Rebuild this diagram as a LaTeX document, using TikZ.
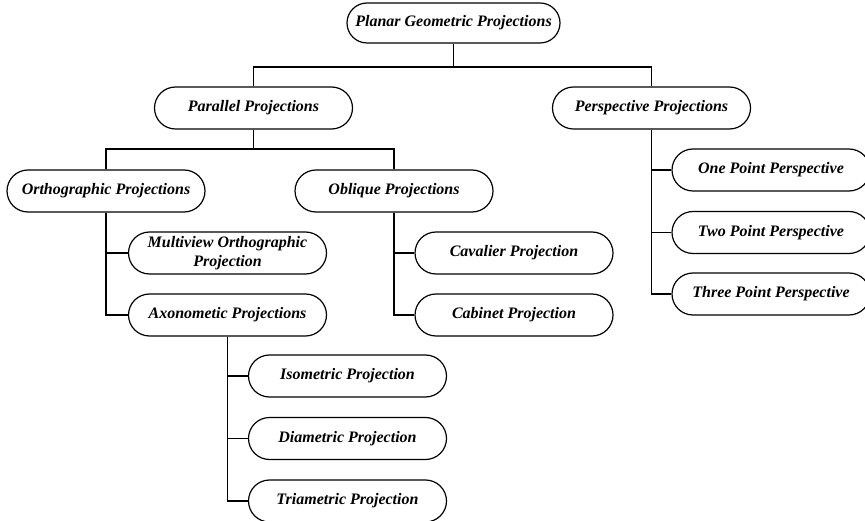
\documentclass[tikz,border=0pt]{standalone}
\usepackage{fontspec}
\setmainfont{Liberation Serif}
\usetikzlibrary{shapes.misc}
\begin{document}
\begin{tikzpicture}[x=1pt,y=-1pt,
  pbox/.style={draw, rounded rectangle, line width=1.2pt, minimum width=198pt, minimum height=42pt, inner sep=0pt,
    font=\fontsize{16}{18.5}\selectfont\bfseries\itshape, align=center},
  conn/.style={line width=1.2pt}]
\useasboundingbox (0,0) rectangle (865,521);
\clip (0,0) rectangle (865,521);
\node[pbox, minimum width=213pt, minimum height=40pt] (root) at (453.5,23) {Planar Geometric Projections};
\node[pbox] (par) at (253.5,108) {Parallel Projections};
\node[pbox] (persp) at (651.5,108) {Perspective Projections};
\node[pbox] (ortho) at (106,191) {Orthographic Projections};
\node[pbox] (obl) at (394,191) {Oblique Projections};
\node[pbox] (multi) at (227.5,253) {Multiview Orthographic\\Projection};
\node[pbox] (axo) at (227.5,315) {Axonometic Projections};
\node[pbox] (cav) at (514,253) {Cavalier Projection};
\node[pbox] (cab) at (514,315) {Cabinet Projection};
\node[pbox] (one) at (771,170) {One Point Perspective};
\node[pbox] (two) at (771,232.5) {Two Point Perspective};
\node[pbox] (three) at (771,294) {Three Point Perspective};
\node[pbox] (iso) at (347.5,376) {Isometric Projection};
\node[pbox] (dia) at (347.5,438.5) {Diametric Projection};
\node[pbox] (tri) at (347.5,501) {Triametric Projection};
\coordinate (b1) at (453.5,67);
\coordinate (b2) at (253.5,149);
\draw[conn] (root.south) -- (b1);
\draw[conn] (par.north) |- (b1) -| (persp.north);
\draw[conn] (par.south) -- (b2);
\draw[conn] (ortho.north) |- (b2) -| (obl.north);
\draw[conn] (ortho.south) |- (multi.west);
\draw[conn] (ortho.south) |- (axo.west);
\draw[conn] (obl.south) |- (cav.west);
\draw[conn] (obl.south) |- (cab.west);
\draw[conn] (axo.south) |- (iso.west);
\draw[conn] (axo.south) |- (dia.west);
\draw[conn] (axo.south) |- (tri.west);
\draw[conn] (persp.south) |- (one.west);
\draw[conn] (persp.south) |- (two.west);
\draw[conn] (persp.south) |- (three.west);
\end{tikzpicture}
\end{document}
